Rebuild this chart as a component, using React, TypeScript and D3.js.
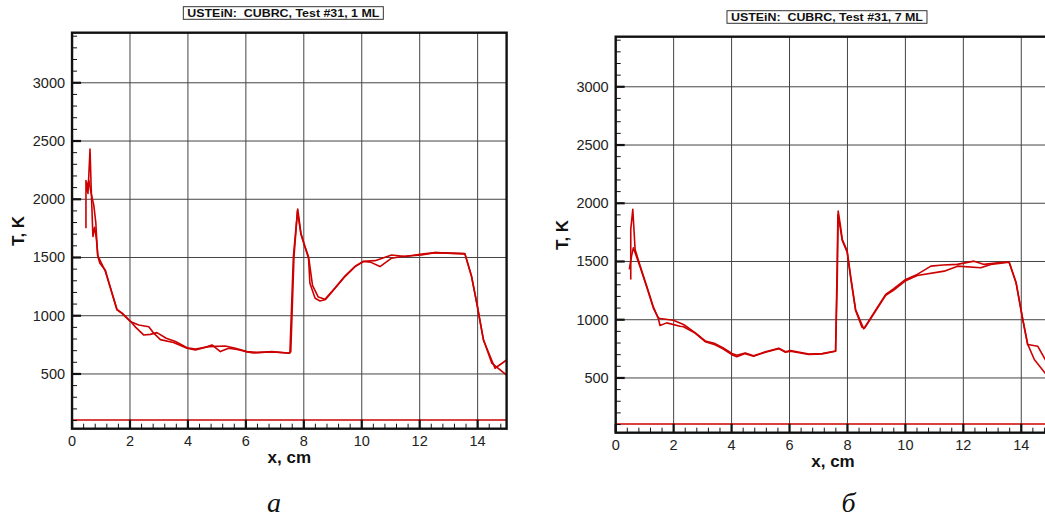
import React from "react";
import * as d3 from "d3";

// ---- data ----
const titles = ["USTEiN:  CUBRC, Test #31, 1 ML", "USTEiN:  CUBRC, Test #31, 7 ML"];
const panelLabels = ["а", "б"];
const xTicks = [0, 2, 4, 6, 8, 10, 12, 14];
const yTicks = [500, 1000, 1500, 2000, 2500, 3000];
const baseLevel = 105;

const a1X = [0.48,0.48,0.55,0.62,0.66,0.72,0.78,0.84,0.9,0.96,1.15,1.38,1.55,1.72,2.01,2.3,2.65,2.82,3.05,3.5,3.97,4.26,4.55,4.83,5.12,5.4,5.7,5.98,6.27,6.9,7.48,7.52,7.64,7.79,7.9,8.04,8.16,8.21,8.39,8.56,8.75,9.08,9.42,9.77,10.06,10.3,10.63,11.03,11.38,12.07,12.53,13.56,13.79,13.97,14.2,14.6,15];
const a1T = [1750,2160,2050,2430,2100,1680,1760,1660,1500,1450,1390,1190,1050,1020,950,921,906,850,795,770,721,706,725,749,692,721,710,692,680,692,678,680,1508,1915,1709,1594,1508,1279,1150,1127,1140,1236,1336,1422,1465,1460,1422,1494,1508,1522,1542,1531,1336,1107,792,549,620];
const a2X = [0.5,0.58,0.66,0.75,0.82,0.88,0.96,1.15,1.38,1.55,1.72,2.01,2.2,2.47,2.7,2.93,3.25,3.57,3.97,4.26,4.73,5.29,5.64,6.04,6.4,6.9,7.48,7.55,7.66,7.78,7.9,8.04,8.18,8.3,8.5,8.73,9.08,9.42,9.77,10.06,10.46,11.03,11.5,12.07,12.53,13.56,13.79,13.97,14.2,14.49,15];
const a2T = [2100,2160,2050,1950,1800,1520,1480,1380,1195,1055,1025,955,900,835,840,855,807,778,725,715,735,740,721,692,685,690,680,690,1500,1900,1700,1590,1480,1260,1160,1142,1240,1340,1425,1468,1473,1522,1508,1530,1542,1533,1340,1110,795,592,491];

const b1X = [0.52,0.52,0.59,0.67,0.84,1.07,1.3,1.47,1.53,1.76,2.22,2.34,2.74,3.09,3.43,3.7,4.01,4.18,4.47,4.76,5.17,5.63,5.86,6.03,6.67,7.13,7.59,7.65,7.68,7.76,7.82,7.99,8.11,8.28,8.56,8.91,9.32,9.6,10.01,10.41,10.88,11.3,11.79,12.37,12.72,13.18,13.58,13.82,14.05,14.22,14.57,14.86];
const b1T = [1346,1776,1948,1603,1465,1290,1110,1010,950,973,944,940,885,812,785,750,700,683,709,686,721,752,721,730,701,707,729,1374,1933,1804,1690,1589,1374,1088,922,1059,1217,1266,1346,1389,1460,1470,1475,1503,1475,1489,1496,1317,1002,787,772,643];
const b2X = [0.47,0.55,0.61,0.84,1.07,1.3,1.47,1.53,1.99,2.34,2.74,3.09,3.43,3.7,4.01,4.18,4.47,4.76,5.17,5.63,5.86,6.03,6.67,7.13,7.59,7.64,7.67,7.75,7.82,7.99,8.11,8.28,8.5,8.6,8.91,9.32,9.6,10.01,10.41,11.34,11.8,12.6,12.95,13.58,13.82,14.05,14.22,14.45,14.86];
const b2T = [1432,1550,1618,1455,1280,1100,1016,1010,996,959,890,818,795,760,710,695,715,690,725,755,725,735,705,710,732,1400,1900,1790,1680,1580,1360,1080,935,930,1050,1210,1255,1335,1380,1417,1460,1446,1475,1494,1320,1005,790,658,529];

const panels = [
  { title: titles[0], label: panelLabels[0], labelX: 274, series: [[a1X, a1T], [a2X, a2T]] },
  { title: titles[1], label: panelLabels[1], labelX: 305, series: [[b1X, b1T], [b2X, b2T]] },
];

const RED = "#cc0000";

function Panel({ p, dx, dy }: any) {
  const x = d3.scaleLinear().domain([0, 15]).range([72.05, 506.6]);
  const y = d3.scaleLinear().domain([30, 3430]).range([428.7, 32.7]);
  const [x0, x1] = x.range();
  const [y0, y1] = y.range();
  const line = d3.line<[number, number]>().x((d) => x(d[0])).y((d) => y(d[1]));
  const minorX = d3.range(0, 15.001, 0.4).filter((v) => Math.abs(v / 2 - Math.round(v / 2)) > 0.01);
  const minorY = d3.range(100, 3430, 100).filter((v) => v % 500 !== 0);
  const cx = (x0 + x1) / 2;
  return (
    <g transform={`translate(${dx},${dy})`}>
      {/* title */}
      <rect x={cx - 106} y={6.7} width={200} height={12.6} fill="white" stroke="#333" strokeWidth={1} />
      <text x={cx - 6} y={17} textAnchor="middle" fontFamily="Liberation Sans, Arial" fontWeight="bold" fontSize={11.5} fill="#111" textLength={192} lengthAdjust="spacingAndGlyphs" style={{ whiteSpace: "pre" }}>{p.title}</text>
      {/* grid */}
      {xTicks.filter((v) => v > 0).map((v) => (
        <line key={"gx" + v} x1={x(v)} x2={x(v)} y1={y1} y2={y0} stroke="#444" strokeWidth={1} />
      ))}
      {yTicks.map((v) => (
        <line key={"gy" + v} x1={x0} x2={x1} y1={y(v)} y2={y(v)} stroke="#444" strokeWidth={1} />
      ))}
      {/* data */}
      <line x1={x0} x2={x1} y1={y(baseLevel)} y2={y(baseLevel)} stroke={RED} strokeWidth={1.6} />
      {p.series.map((s: any, i: number) => {
        const pts: [number, number][] = s[0].map((v: number, j: number) => [v, s[1][j]]);
        return <path key={i} d={line(pts) || ""} fill="none" stroke={RED} strokeWidth={1.6} strokeLinejoin="round" />;
      })}
      {/* ticks */}
      {minorY.map((v) => (
        <line key={"my" + v} x1={x0} x2={x0 + 5} y1={y(v)} y2={y(v)} stroke="#111" strokeWidth={1} />
      ))}
      {yTicks.map((v) => (
        <line key={"My" + v} x1={x0} x2={x0 + 9} y1={y(v)} y2={y(v)} stroke="#111" strokeWidth={2.2} />
      ))}
      {minorX.map((v) => (
        <line key={"mx" + v} x1={x(v)} x2={x(v)} y1={y0} y2={y0 - 5} stroke="#111" strokeWidth={1} />
      ))}
      {xTicks.map((v) => (
        <line key={"Mx" + v} x1={x(v)} x2={x(v)} y1={y0} y2={y0 - 9} stroke="#111" strokeWidth={2.2} />
      ))}
      {/* frame */}
      <rect x={x0} y={y1} width={x1 - x0} height={y0 - y1} fill="none" stroke="#111" strokeWidth={2.4} />
      {/* tick labels */}
      {yTicks.map((v) => (
        <text key={"ly" + v} x={x0 - 7} y={y(v) + 5} textAnchor="end" fontFamily="Liberation Sans, Arial" fontSize={14.5} fill="#222">{v}</text>
      ))}
      {xTicks.map((v) => (
        <text key={"lx" + v} x={x(v)} y={445.5} textAnchor="middle" fontFamily="Liberation Sans, Arial" fontSize={14.5} fill="#222">{v}</text>
      ))}
      <text x={cx} y={462.5} textAnchor="middle" fontFamily="Liberation Sans, Arial" fontWeight="bold" fontSize={17} fill="#111">x, cm</text>
      <text transform={`translate(24,231) rotate(-90)`} textAnchor="middle" fontFamily="Liberation Sans, Arial" fontWeight="bold" fontSize={17} fill="#111">T, K</text>
      <text x={p.labelX} y={512 - dy} textAnchor="middle" fontFamily="Liberation Serif, Times New Roman" fontStyle="italic" fontSize={28} fill="#111">{p.label}</text>
    </g>
  );
}

export default function App() {
  return (
    <svg width={1045} height={519} style={{ position: "fixed", left: 0, top: 0, background: "white" }}>
      <rect width={1045} height={519} fill="white" />
      <Panel p={panels[0]} dx={0} dy={0} />
      <Panel p={panels[1]} dx={543.65} dy={4} />
    </svg>
  );
}
